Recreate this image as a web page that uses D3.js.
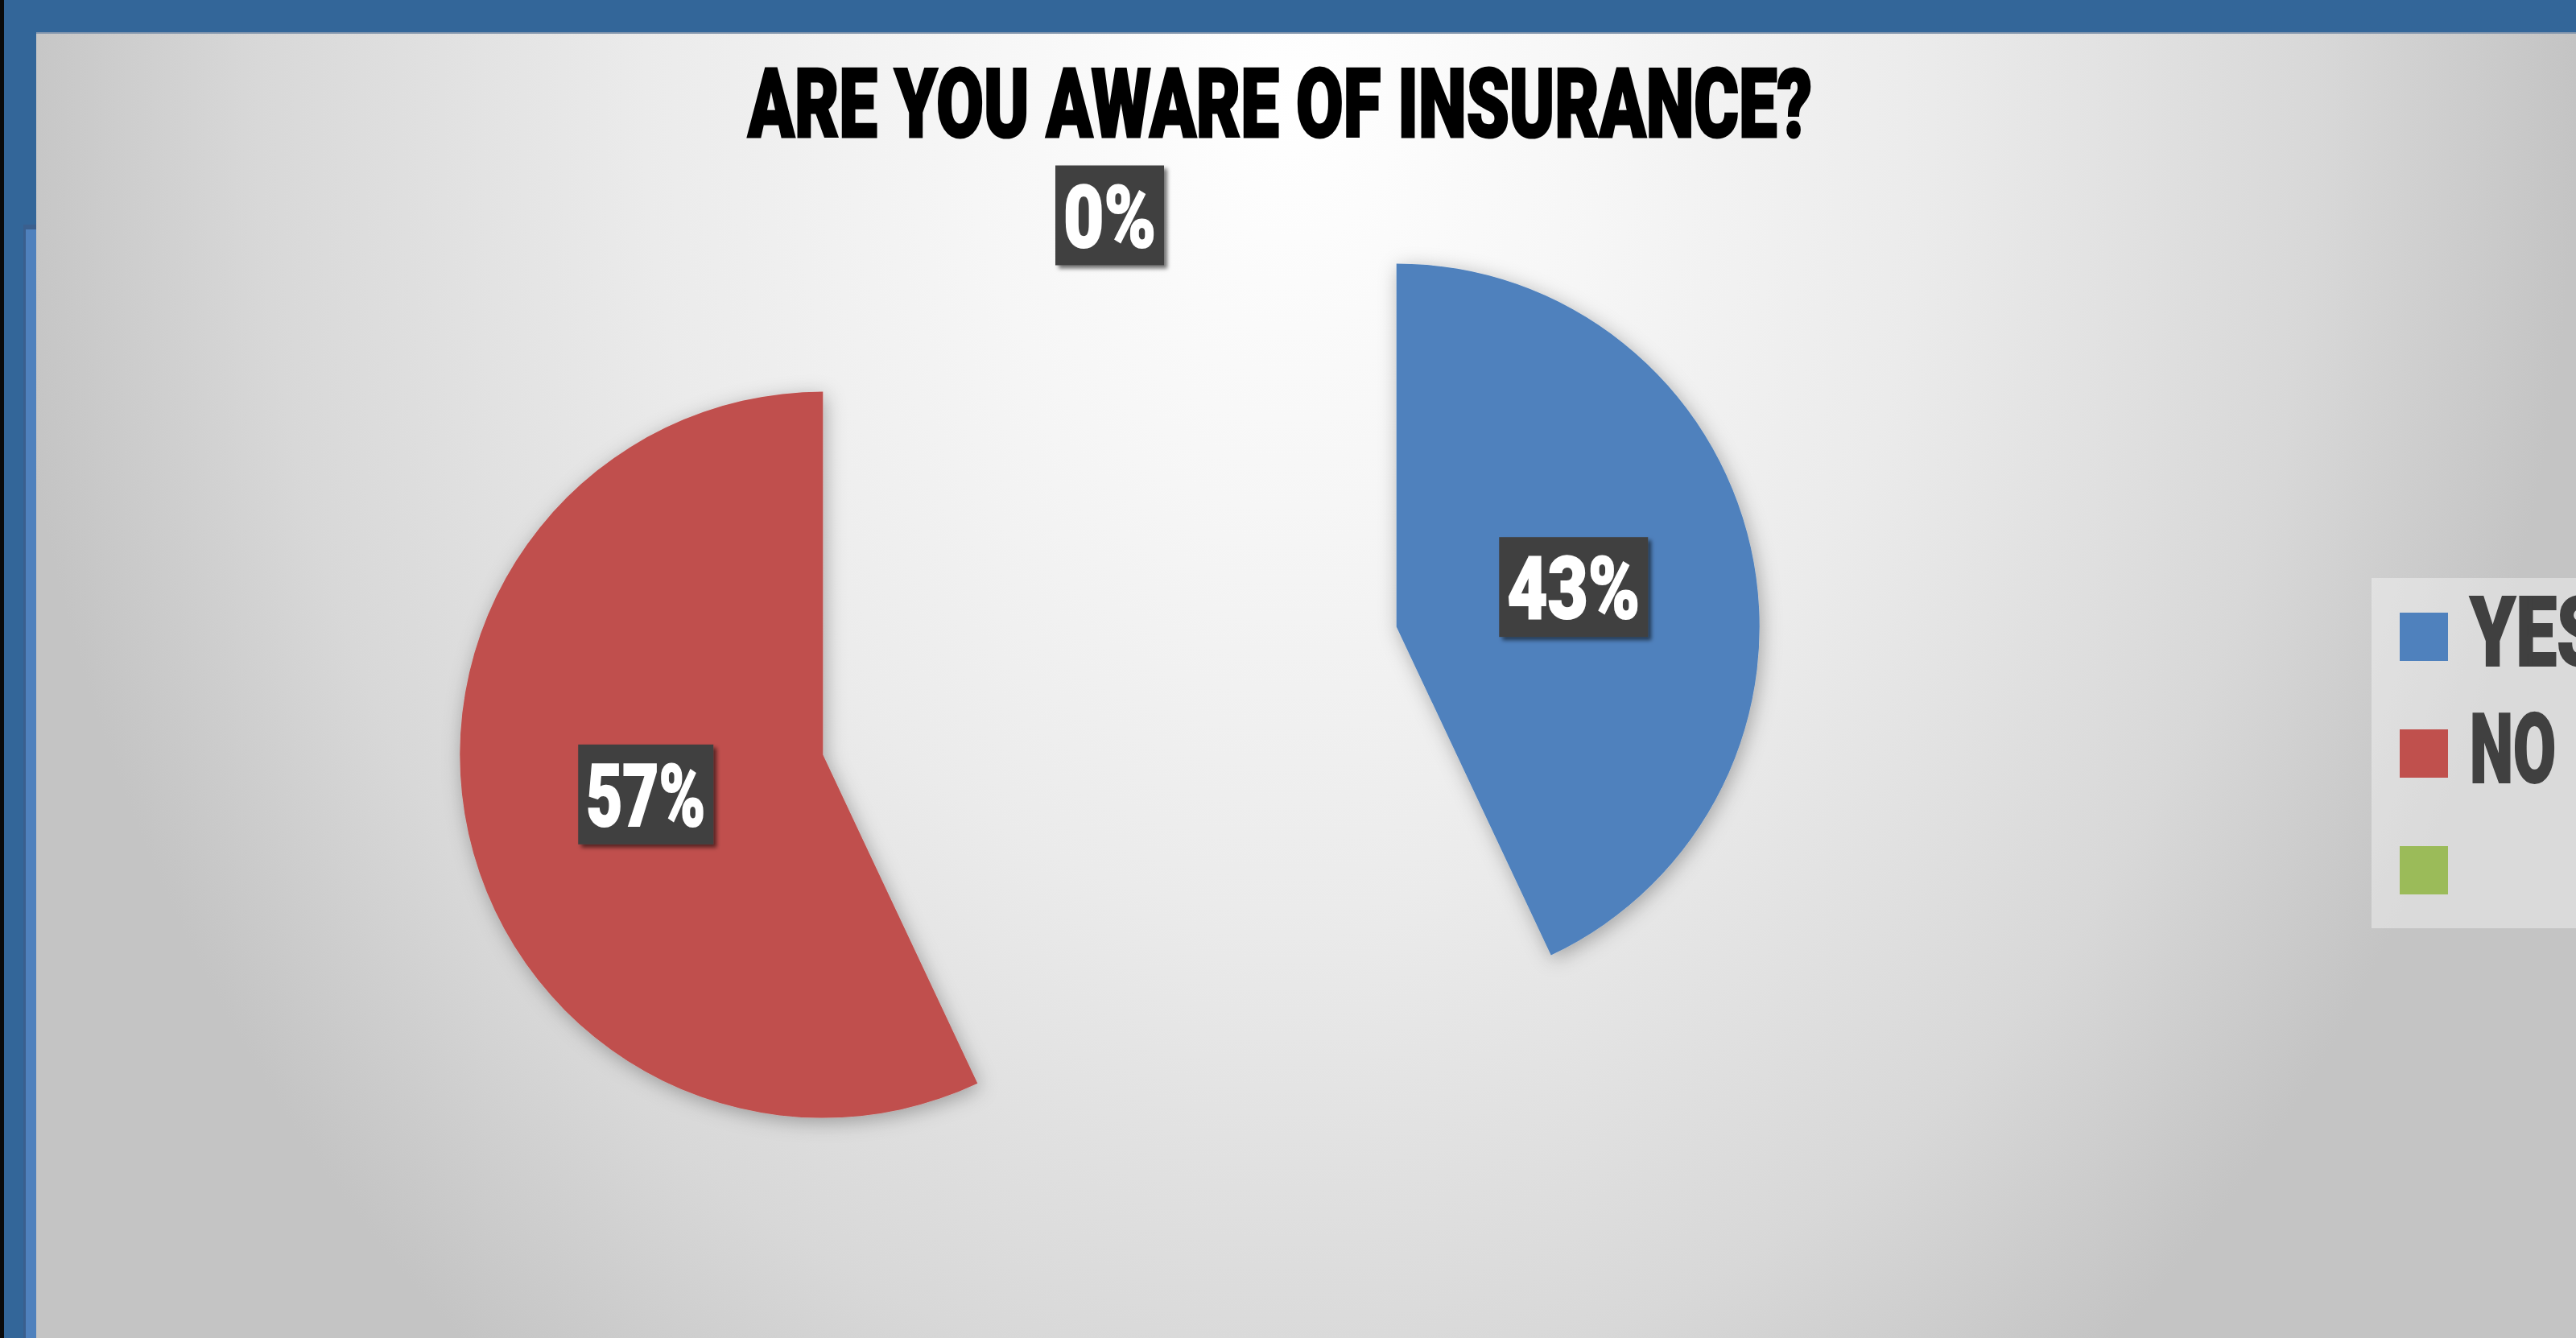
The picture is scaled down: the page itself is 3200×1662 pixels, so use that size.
<!DOCTYPE html>
<html>
<head>
<meta charset="utf-8">
<script src="https://cdn.jsdelivr.net/npm/d3@7"></script>
<style>
  html, body { margin: 0; padding: 0; background: #ffffff; overflow: hidden; }
  svg { display: block; }
</style>
</head>
<body>
<script>
// Survey answers: share of respondents per answer
const categories = ["YES", "NO", ""];
const values = [43, 57, 0];
const sliceColors = ["#4f81bd", "#c0504d", "#9bbb59"];
const chartTitle = "ARE YOU AWARE OF INSURANCE?";

const W = 3200, H = 1662;
const heavyFont = "Roboto, 'Open Sans', 'DejaVu Sans', sans-serif";

const svg = d3.select("body").append("svg")
  .attr("width", W).attr("height", H);

const defs = svg.append("defs");

// soft grey backdrop, brightest under the title
const bg = defs.append("radialGradient")
  .attr("id", "bgGrad")
  .attr("gradientUnits", "userSpaceOnUse")
  .attr("cx", 0).attr("cy", 0).attr("r", 1)
  .attr("gradientTransform", "translate(1600,130) scale(1600,2000)");
[[0, "#ffffff"], [0.25, "#f6f6f6"], [0.5, "#ebebeb"], [0.8, "#d8d8d8"], [1, "#c4c4c4"]]
  .forEach(([o, c]) => bg.append("stop").attr("offset", o).attr("stop-color", c));

const sliceShadow = defs.append("filter").attr("id", "sliceShadow")
  .attr("x", "-20%").attr("y", "-20%").attr("width", "140%").attr("height", "140%");
sliceShadow.append("feDropShadow")
  .attr("dx", 3).attr("dy", 5).attr("stdDeviation", 12)
  .attr("flood-color", "#000").attr("flood-opacity", 0.3);

const boxShadow = defs.append("filter").attr("id", "boxShadow")
  .attr("x", "-20%").attr("y", "-20%").attr("width", "150%").attr("height", "150%");
boxShadow.append("feDropShadow")
  .attr("dx", 4).attr("dy", 4).attr("stdDeviation", 2.5)
  .attr("flood-color", "#000").attr("flood-opacity", 0.55);

// window frame around the chart area
svg.append("rect").attr("x", 0).attr("y", 0).attr("width", W).attr("height", H).attr("fill", "#336699");
svg.append("rect").attr("x", 0).attr("y", 0).attr("width", 5).attr("height", H).attr("fill", "#0a0a0a");
svg.append("rect").attr("x", 29).attr("y", 279).attr("width", 16).attr("height", H - 279).attr("fill", "#3a5f8e");
svg.append("rect").attr("x", 32).attr("y", 285).attr("width", 13).attr("height", H - 285).attr("fill", "#4f81bd");

// chart area
svg.append("rect").attr("x", 45).attr("y", 40).attr("width", W - 45).attr("height", H - 40)
  .attr("fill", "url(#bgGrad)");
svg.append("rect").attr("x", 45).attr("y", 40).attr("width", W - 45).attr("height", 2)
  .attr("fill", "#8a9bb0");

// title
svg.append("text")
  .attr("x", 929).attr("y", 170)
  .attr("font-family", heavyFont).attr("font-weight", 900)
  .attr("font-size", 118)
  .attr("fill", "#000").attr("stroke", "#000").attr("stroke-width", 3)
  .attr("textLength", 1322).attr("lengthAdjust", "spacingAndGlyphs")
  .text(chartTitle);

// exploded pie
const cx = 1378.5, cy = 858, radius = 451, explode = 365;
const pie = d3.pie().sort(null).value(d => d.value);
const arcs = pie(categories.map((c, i) => ({ cat: c, value: values[i], color: sliceColors[i] })));
const arc = d3.arc().innerRadius(0).outerRadius(radius);

const offsetOf = d => {
  const a = (d.startAngle + d.endAngle) / 2;
  return [Math.sin(a) * explode, -Math.cos(a) * explode];
};

const pieG = svg.append("g").attr("transform", `translate(${cx},${cy})`);

pieG.selectAll("path.slice")
  .data(arcs.filter(d => d.value > 0))
  .join("path")
  .attr("class", "slice")
  .attr("transform", d => `translate(${offsetOf(d)})`)
  .attr("d", arc)
  .attr("fill", d => d.data.color)
  .attr("filter", "url(#sliceShadow)");

// percentage labels in dark boxes
const total = d3.sum(values);
const fmt = v => Math.round(v / total * 100) + "%";
const labelTextWidth = s => s.length === 2 ? 115 : (s.startsWith("4") ? 165 : 148);

const labels = pieG.selectAll("g.lbl")
  .data(arcs)
  .join("g")
  .attr("class", "lbl")
  .attr("transform", d => {
    const [ox, oy] = offsetOf(d);
    const [lx, ly] = arc.centroid(d);
    return `translate(${ox + lx},${oy + ly})`;
  });

labels.each(function (d) {
  const g = d3.select(this);
  const txt = fmt(d.value);
  const tw = labelTextWidth(txt);
  const bw = tw + 20, bh = 124;
  g.append("rect")
    .attr("x", -bw / 2).attr("y", -bh / 2)
    .attr("width", bw).attr("height", bh)
    .attr("fill", "#404040")
    .attr("filter", "url(#boxShadow)");
  g.append("text")
    .attr("x", -tw / 2).attr("y", 39)
    .attr("font-family", heavyFont).attr("font-weight", 900)
    .attr("font-size", 108)
    .attr("fill", "#ffffff").attr("stroke", "#ffffff").attr("stroke-width", 2)
    .attr("textLength", tw).attr("lengthAdjust", "spacingAndGlyphs")
    .text(txt);
});

// legend (runs past the right edge of the window)
const legend = svg.append("g");
legend.append("rect")
  .attr("x", 2946).attr("y", 718).attr("width", 300).attr("height", 435)
  .attr("fill", "#ffffff").attr("fill-opacity", 0.38);

const legendY = d3.scalePoint().domain(d3.range(categories.length)).range([761, 1051]);
const legendW = { "YES": 165, "NO": 107, "": 0 };

const items = legend.selectAll("g.item")
  .data(categories.map((c, i) => ({ cat: c, color: sliceColors[i], i })))
  .join("g").attr("class", "item")
  .attr("transform", d => `translate(2981,${legendY(d.i)})`);

items.append("rect")
  .attr("width", 60).attr("height", 60)
  .attr("fill", d => d.color);

items.filter(d => d.cat.length > 0).append("text")
  .attr("x", 87).attr("y", 66)
  .attr("font-family", heavyFont).attr("font-weight", 900)
  .attr("font-size", 120)
  .attr("fill", "#404040").attr("stroke", "#404040").attr("stroke-width", 2)
  .attr("textLength", d => legendW[d.cat]).attr("lengthAdjust", "spacingAndGlyphs")
  .text(d => d.cat);
</script>
</body>
</html>
